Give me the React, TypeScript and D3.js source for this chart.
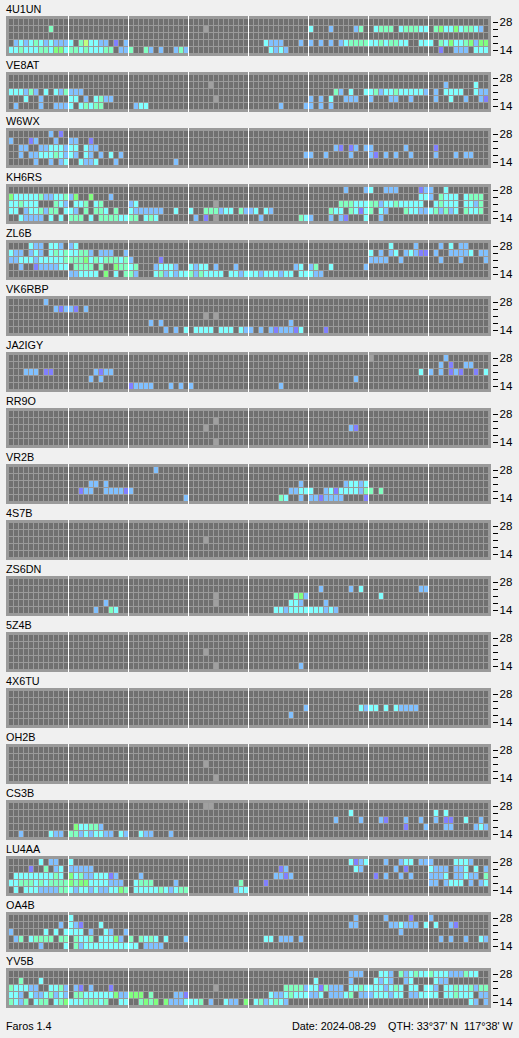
import React from 'react';
import * as d3 from 'd3';

// Each row is "startCol:levels" runs, top row = 28 MHz, bottom row = 14 MHz.
// Levels: v b c m g y = signal strength, x = no data slot
const bands = ['28', '24', '21', '18', '14'];
const bandLabels = ['28', '', '', '', '14'];
const levels = ['v', 'b', 'c', 'm', 'g', 'y', 'x'];
const levelColors = ['#8080ff', '#80c0ff', '#80ffff', '#80ffc0', '#80ff80', '#c0ff80', '#a0a0a0'];

const s4U1UN = [
  '',
  '8:m 39:x 60:c 64:b 69:bm 73:cmmm 78:cmmmcc 85:mgccgcmmcb',
  '',
  '1:bcbcmcbcbbbc 14:myccbb 21:v 23:b 51:cbbb 58:b 60:b 62:b 64:b 66:bcmmmmccmcmmcc 82:ccc 86:mcgccmgbgg',
  '0:ccmcccmmcggcmmcmcccmm 22:bbm 27:mb 30:b 33:bmb 52:cbcb 86:v 89:bbb 93:ccc',
];
const sVE8AT = [
  '',
  '40:x 87:b 93:c',
  '0:cccbmb 7:c 9:cbmbbb 65:mb 68:c 71:ccmbccmcccccb 85:b 87:cccc 93:cbb',
  '3:c 6:b 12:cc 15:b 17:cmbb 41:x 60:b 62:b 64:c 67:bbb 72:b 76:bb 80:b 85:b 88:c 91:b 94:bv',
  '1:b 6:b 9:bbbc 14:cmcmm 25:bcc 54:b 59:bb 62:b 64:b',
];
const sW6WX = [
  '8:b 10:v',
  '0:b 4:vb 9:b 12:bb 16:v',
  '2:bb 6:bbcccbcc 15:cbb 65:bv 68:vb 71:bb 79:b 85:v',
  '2:b 4:bbcccmcbcb 15:cb 18:b 20:c 22:b 59:bb 63:b 68:b 72:bv 75:b 77:b 80:b 85:b 89:b 91:bb',
  '5:b 8:b 10:bc 14:cbbc 21:b 33:b',
];
const sKH6RS = [
  '67:b 71:bc 75:bbb 82:vbb 87:c',
  '0:gcccccmbbccmbg 16:g 20:b 82:ccb 86:mccc 91:cmmm',
  '0:ccmccc 9:mcb 13:ccm 17:cm 24:bc 41:x 66:mmmcccmmbccmcccc 82:c 85:cmccc 91:ccbm',
  '0:cc 3:bccmbmm 11:ccb 15:m 17:mmc 21:m 24:cbbbbbb 33:c 36:c 39:mmmbcc 46:mbbc 51:cb 64:mcc 68:mcvcm 74:cb 79:mccbbcmbmbc 91:mccm',
  '2:cbbbb 8:c 10:c 12:mmm 16:c 18:mmmmccmm 27:cmc 37:b 39:v 41:x 50:b 58:mcb 64:b 66:bv 71:c 74:b',
];
const sZL6B = [
  '4:cbb 8:ccb 12:bc 76:c 81:b 86:b 88:c 90:bb',
  '0:cbb 4:bcb 8:cmcmccmmb 18:bbb 23:b 72:c 74:b 76:bc 79:bcbvv 85:b 88:bbbbc 94:bb',
  '0:bbcccbcccccmmmmgcmcmmmcmb 30:v 72:bbbb 78:b 86:b 90:b 95:b',
  '2:b 5:vbbbbcc 13:mmmm 18:m 21:gmmcm 29:bcccb 36:cbcc 41:b 45:b 57:bc 60:bm 64:c 71:b',
  '12:bbcccc 19:g 21:c 23:mm 25:b 29:cmbcbccmbmcccc 44:ccbcccbcccbcc 58:ccc 61:bb',
];
const sVK6RBP = [
  '7:b',
  '9:bvbbv 15:b',
  '39:x 41:x',
  '28:b 30:b 56:b',
  '31:b 33:b 35:c 37:cccc 42:ccc 46:cbb 50:b 52:bvbbbvc 63:v',
];
const sJA2IGY = [
  '72:x 87:b',
  '86:b 88:v 91:bb',
  '3:bbb 7:vv 17:bvbb 82:c 84:b 86:b 88:vbv 93:v 95:c',
  '16:b 18:b 69:b',
  '24:vbbbb 32:b 34:b 36:b 54:b',
];
const sRR9O = ['', '41:x', '39:x 68:bv', '', '41:x'];
const sVR2B = [
  '29:b',
  '',
  '16:bb 19:b 58:b 67:bccbc',
  '14:vbb 19:bbbbvb 56:bbccc 63:bcvccccbmm 74:m',
  '35:b 54:mc 58:b 60:bbvbbbb 71:v',
];
const s4S7B = ['', '', '39:x', '', ''];
const sZS6DN = [
  '',
  '62:b 68:b 70:c 82:bb',
  '41:x 57:mgb 74:c',
  '19:b 41:x 56:ccb 63:b',
  '17:b 20:mc 53:ccbcccccccbcb',
];
const s5Z4B = ['', '', '39:x', '', '41:x 58:b'];
const s4X6TU = ['', '', '59:b 70:cbcc 75:c 77:cbbbb', '56:b', ''];
const sOH2B = ['', '', '39:x', '', '41:x'];
const sCS3B = [
  '39:xx',
  '68:c 85:c 87:c',
  '65:b 70:b 74:bv 79:b 82:b 85:b 87:vv 91:c 94:b',
  '13:gccmmb 79:v 83:b 87:bb 93:bcb',
  '2:b 8:cbb 12:mmbcbccbb 22:cb 26:cbb 32:b',
];
const sLU4AA = [
  '6:c 8:bb 12:c 68:cvbc 75:b 78:bcc 82:bbb 89:cccb',
  '4:v 7:m 9:bc 12:bbbbb 54:vb 69:cb 77:b 79:v 84:cbbb 89:bbc 93:c 95:b',
  '1:ccccccccmc 12:gcmbbcccvb 26:b 53:bbvb 73:v 75:b 78:b 80:b 84:bbbc 89:bbcbb 95:m',
  '0:ccmmmcmcmmmmgmggccccbbb 25:cmmm 33:b 46:m 51:v 84:bb 87:bccc 92:b 94:bc',
  '1:c 3:cccbbbbmmcbccbcbbccgm 25:cccccmcbcmm 45:bcc',
];
const sOA4B = [
  '12:c 69:b 75:b 80:v 84:b',
  '10:b 12:cbv 18:c 68:bb 76:bbcbbb 83:c 85:c 88:bv',
  '0:b 7:c 9:c 11:cccc 16:b 19:cb 23:b 78:b',
  '1:bm 4:cmmmm 10:mm 13:mccm 18:cccgb 24:m 26:mcmc 31:c 35:b 51:cc 54:bbb 58:b 86:b 88:b 91:b 94:cb',
  '6:b 11:c 13:mbccccccccccc 27:bbbb',
];
const sYV5B = [
  '68:bbb 74:ccb 78:mbcmccmcccbbbmcc',
  '2:m 6:c 61:c 68:b 73:cbcb 79:bc 85:cb 87:b',
  '0:mcccbb 8:ccmb 13:bv 16:b 20:v 41:x 55:mmmmbccvmbbb 68:ccmccccbcmc 80:cc 83:ccb 87:ccmccmbmm',
  '0:ccb 4:cbbcmbcb 13:mmccccccgbbggg 28:m 33:bbv 52:cbbcmcccbbc 64:bbbcm 70:bbbcccbcc 80:bbcccc 87:ccmccc 94:bb',
  '0:mcbm 5:cmm 9:cmgcccmmmcm 22:cc 26:mgmg 31:gbbbcccm 40:b 43:cbb 47:g 49:cmbcmcb 92:cb 95:b',
];

const names = ['4U1UN', 'VE8AT', 'W6WX', 'KH6RS', 'ZL6B', 'VK6RBP', 'JA2IGY', 'RR9O', 'VR2B', '4S7B', 'ZS6DN', '5Z4B', '4X6TU', 'OH2B', 'CS3B', 'LU4AA', 'OA4B', 'YV5B'];
const rows = [s4U1UN, sVE8AT, sW6WX, sKH6RS, sZL6B, sVK6RBP, sJA2IGY, sRR9O, sVR2B, s4S7B, sZS6DN, s5Z4B, s4X6TU, sOH2B, sCS3B, sLU4AA, sOA4B, sYV5B];

const W = 519;
const H = 1038;
const panelH = 40;
const panelStep = 56;
const cols = d3.range(96);
const fontFamily = '"Liberation Sans", sans-serif';
const fontSize = 10.8;

const x = d3.scaleBand<number>().domain(cols).range([9, 489]);
const y = d3.scaleBand<string>().domain(bands).range([3, 38]);
const panelY = d3.scaleBand<string>().domain(names).range([16, 16 + panelStep * names.length]);
const color = d3.scaleOrdinal<string, string>().domain(levels).range(levelColors);

// expand run strings into col -> level
function parseRow(row: string) {
  const m = new Map<number, string>();
  row.split(' ').filter(Boolean).forEach(run => {
    const [start, letters] = run.split(':');
    letters.split('').forEach((l, i) => m.set(+start + i, l));
  });
  return m;
}

const Panel = ({ name, data }: { name: string; data: string[] }) => {
  const top = panelY(name)!;
  return (
    <g transform={`translate(0,${top})`}>
      <text x={6} y={-3} fontSize={fontSize} fill="#000">{name}</text>
      <rect x={6} y={0} width={485} height={panelH} fill="#9a9a9a" />
      {bands.map((b, r) => {
        const cells = parseRow(data[r]);
        return cols.map(c => (
          <rect
            key={`${b}-${c}`}
            x={x(c)!}
            y={y(b)!}
            width={x.bandwidth() - 1}
            height={y.bandwidth() - 1}
            fill={cells.has(c) ? color(cells.get(c)!) : '#707070'}
          />
        ));
      })}
      {d3.range(12, 96, 12).map(c => (
        <rect key={c} x={x(c)! - 1} y={0} width={1} height={panelH} fill="#fff" />
      ))}
      {bands.map((b, r) => (
        <g key={b}>
          <rect x={493} y={Math.floor(y(b)! + 3)} width={5} height={1} fill="#000" />
          {bandLabels[r] && (
            <text x={499.5} y={y(b)! + 7} fontSize={11.5} fill="#000">{bandLabels[r]}</text>
          )}
        </g>
      ))}
    </g>
  );
};

export default function App() {
  return (
    <div style={{ position: 'absolute', left: 0, top: 0 }}>
      <svg width={W} height={H} style={{ display: 'block', fontFamily }}>
        <rect width={W} height={H} fill="#f0f0f0" />
        {names.map((n, i) => <Panel key={n} name={n} data={rows[i]} />)}
        <text x={6} y={1030} fontSize={fontSize} fill="#000">Faros 1.4</text>
        <text x={292} y={1030} fontSize={fontSize} fill="#000">Date: 2024-08-29</text>
        <text x={388} y={1030} fontSize={fontSize} fill="#000">QTH: 33°37' N</text>
        <text x={464} y={1030} fontSize={fontSize} fill="#000">117°38' W</text>
      </svg>
    </div>
  );
}
